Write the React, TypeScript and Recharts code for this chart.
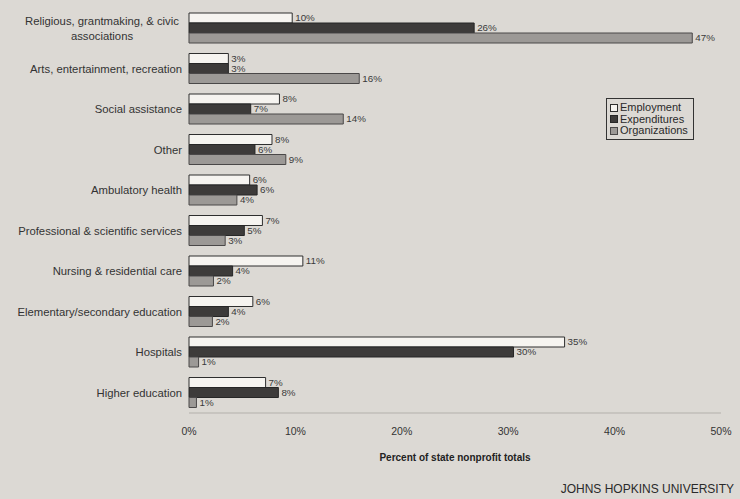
import React from "react";
import {
  BarChart,
  Bar,
  XAxis,
  YAxis,
  Legend,
  LabelList,
  Label,
} from "recharts";

const categories = [
  "Religious, grantmaking, & civic|associations",
  "Arts, entertainment, recreation",
  "Social assistance",
  "Other",
  "Ambulatory health",
  "Professional & scientific services",
  "Nursing & residential care",
  "Elementary/secondary education",
  "Hospitals",
  "Higher education",
];

// bar lengths
const employment = [9.7, 3.7, 8.5, 7.8, 5.7, 6.9, 10.7, 6.0, 35.3, 7.2];
const expenditures = [26.8, 3.7, 5.8, 6.2, 6.4, 5.2, 4.1, 3.7, 30.5, 8.4];
const organizations = [47.3, 16.0, 14.5, 9.1, 4.5, 3.4, 2.3, 2.2, 0.9, 0.7];

// printed value labels
const employmentLabels = ["10%", "3%", "8%", "8%", "6%", "7%", "11%", "6%", "35%", "7%"];
const expenditureLabels = ["26%", "3%", "7%", "6%", "6%", "5%", "4%", "4%", "30%", "8%"];
const organizationLabels = ["47%", "16%", "14%", "9%", "4%", "3%", "2%", "2%", "1%", "1%"];

const xTicks = [0, 10, 20, 30, 40, 50];

const data = categories.map((name, i) => ({
  name,
  emp: employment[i],
  exp: expenditures[i],
  org: organizations[i],
  empLabel: employmentLabels[i],
  expLabel: expenditureLabels[i],
  orgLabel: organizationLabels[i],
}));

const FONT = "'Liberation Sans', Arial, sans-serif";

const series = [
  { key: "emp", name: "Employment", fill: "#f6f4f0", stroke: "#2e2e2e" },
  { key: "exp", name: "Expenditures", fill: "#3d3b3a", stroke: "#262626" },
  { key: "org", name: "Organizations", fill: "#9c9996", stroke: "#4a4848" },
];

const CategoryTick = (props: any) => {
  const { x, y, payload } = props;
  const lines = String(payload.value).split("|");
  if (lines.length === 1) {
    return (
      <text x={x + 1} y={y} dy={4} textAnchor="end" fontSize={11.3} fill="#333" fontFamily={FONT}>
        {lines[0]}
      </text>
    );
  }
  // two-line label: centred lines, block right edge on the tick
  return (
    <text x={x - 79} y={y} textAnchor="middle" fontSize={11.3} fill="#333" fontFamily={FONT}>
      <tspan x={x - 79} dy={-3.5}>{lines[0]}</tspan>
      <tspan x={x - 79} dy={15}>{lines[1]}</tspan>
    </text>
  );
};

const LegendBox = () => (
  <div
    style={{
      border: "1px solid #333",
      padding: "3px 5px 2px 3px",
      fontFamily: FONT,
      fontSize: 11,
      color: "#2a2a2a",
      lineHeight: "11.5px",
    }}
  >
    {series.map((s) => (
      <div key={s.key} style={{ display: "flex", alignItems: "center" }}>
        <span
          style={{
            display: "inline-block",
            width: 6,
            height: 6,
            background: s.fill,
            border: `1px solid ${s.stroke}`,
            marginRight: 2,
          }}
        />
        {s.name}
      </div>
    ))}
  </div>
);

export default function App() {
  return (
    <div
      style={{
        position: "absolute",
        left: 0,
        top: 0,
        width: 740,
        height: 499,
        background: "#dcd9d4",
        overflow: "hidden",
      }}
    >
      <BarChart
        width={740}
        height={499}
        data={data}
        layout="vertical"
        margin={{ top: 8, right: 19, bottom: 0, left: 0 }}
        barGap={0}
        barSize={10}
      >
        <XAxis
          type="number"
          domain={[0, 50]}
          ticks={xTicks}
          tickFormatter={(v: number) => `${v}%`}
          axisLine={{ stroke: "#b3b0ab" }}
          tickLine={false}
          tickMargin={9}
          height={86}
          tick={{ fontSize: 10.5, fill: "#333", fontFamily: FONT }}
        >
          <Label
            value="Percent of state nonprofit totals"
            position="insideTop"
            offset={41}
            style={{ fontSize: 10, fontWeight: "bold", fill: "#222", fontFamily: FONT }}
          />
        </XAxis>
        <YAxis
          type="category"
          dataKey="name"
          width={189}
          axisLine={false}
          tickLine={false}
          tick={<CategoryTick />}
          interval={0}
        />
        <Legend
          layout="vertical"
          align="center"
          verticalAlign="middle"
          content={<LegendBox />}
          wrapperStyle={{ position: "absolute", left: 606, top: 98, width: "auto" }}
        />
        {series.map((s) => (
          <Bar
            key={s.key}
            dataKey={s.key}
            name={s.name}
            fill={s.fill}
            stroke={s.stroke}
            strokeWidth={1}
            isAnimationActive={false}
          >
            <LabelList
              dataKey={`${s.key}Label`}
              position="right"
              offset={3}
              style={{ fontSize: 9.8, fill: "#3a3a3a", fontFamily: FONT }}
            />
          </Bar>
        ))}
      </BarChart>
      <div
        style={{
          position: "absolute",
          right: 6,
          top: 482,
          fontFamily: "'Liberation Sans Narrow', 'Liberation Sans', Arial, sans-serif",
          fontSize: 12,
          color: "#2a2a2a",
        }}
      >
        JOHNS HOPKINS UNIVERSITY
      </div>
    </div>
  );
}
